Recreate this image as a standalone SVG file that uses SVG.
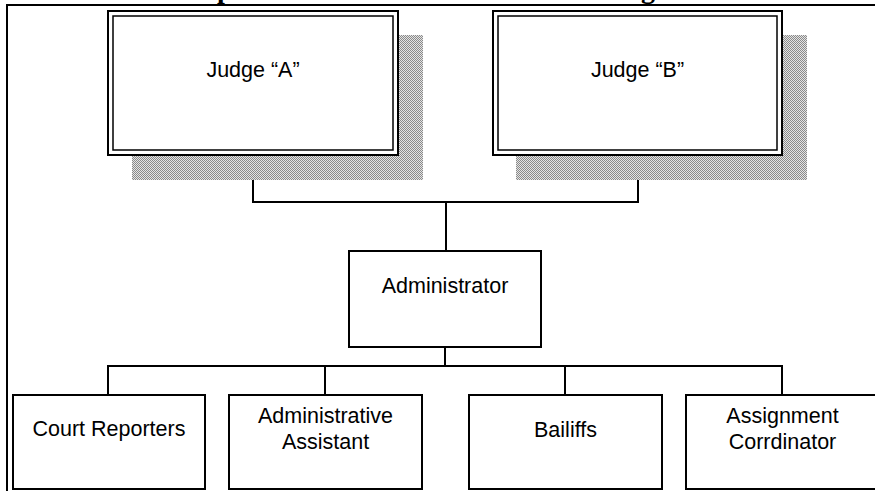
<svg xmlns="http://www.w3.org/2000/svg" width="875" height="491" viewBox="0 0 875 491">
  <defs>
    <pattern id="dither" x="0" y="0" width="2" height="2" patternUnits="userSpaceOnUse">
      <rect x="0" y="0" width="2" height="2" fill="#e4e4e4"/>
      <rect x="0" y="0" width="1" height="1" fill="#8a8a8a"/>
      <rect x="1" y="1" width="1" height="1" fill="#8a8a8a"/>
    </pattern>
  </defs>
  <style>
    .frame { fill: none; stroke: #000; stroke-width: 2; }
    .box { fill: #fff; stroke: #000; stroke-width: 2; }
    .inner { fill: none; stroke: #000; stroke-width: 1.5; }
    .shadow { fill: url(#dither); }
    .conn { fill: none; stroke: #000; stroke-width: 2; }
    .lbl { font-family: "Liberation Sans", Arial, sans-serif; font-size: 21.5px; fill: #000; text-anchor: middle; }
    .title { font-family: "Liberation Serif", "Times New Roman", serif; font-size: 28px; font-weight: bold; fill: #000; }
  </style>
  <rect x="0" y="0" width="875" height="491" fill="#fff"/>

  <g id="title">
    <text class="title" x="217" y="-2">p</text>
    <text class="title" x="641" y="-2">g</text>
  </g>

  <g id="frame">
    <path class="frame" d="M7,491 V5 H875"/>
  </g>

  <g id="connectors">
    <path class="conn" d="M253,155 V202 H638 V155"/>
    <path class="conn" d="M446,202 V251"/>
    <path class="conn" d="M445,347 V366"/>
    <path class="conn" d="M108,395 V366 H782 V395"/>
    <path class="conn" d="M325,366 V395"/>
    <path class="conn" d="M565,366 V395"/>
  </g>

  <g id="judge-a">
    <rect class="shadow" x="132" y="35" width="291" height="145"/>
    <rect class="box" x="108" y="11" width="290" height="144"/>
    <rect class="inner" x="113" y="16" width="280" height="134"/>
    <text class="lbl" x="253" y="77">Judge “A”</text>
  </g>

  <g id="judge-b">
    <rect class="shadow" x="516" y="35" width="291" height="145"/>
    <rect class="box" x="493" y="11" width="289" height="144"/>
    <rect class="inner" x="498" y="16" width="279" height="134"/>
    <text class="lbl" x="637.5" y="77">Judge “B”</text>
  </g>

  <g id="administrator">
    <rect class="box" x="349" y="251" width="192" height="96"/>
    <text class="lbl" x="445" y="293">Administrator</text>
  </g>

  <g id="court-reporters">
    <rect class="box" x="13" y="395" width="192" height="94"/>
    <text class="lbl" x="109" y="436">Court Reporters</text>
  </g>

  <g id="administrative-assistant">
    <rect class="box" x="229" y="395" width="193" height="94"/>
    <text class="lbl" x="325.5" y="423">Administrative</text>
    <text class="lbl" x="325.5" y="449">Assistant</text>
  </g>

  <g id="bailiffs">
    <rect class="box" x="469" y="395" width="193" height="94"/>
    <text class="lbl" x="565.5" y="437">Bailiffs</text>
  </g>

  <g id="assignment-coordinator">
    <rect class="box" x="686" y="395" width="193" height="94"/>
    <text class="lbl" x="782.5" y="423">Assignment</text>
    <text class="lbl" x="782.5" y="449">Corrdinator</text>
  </g>
</svg>
